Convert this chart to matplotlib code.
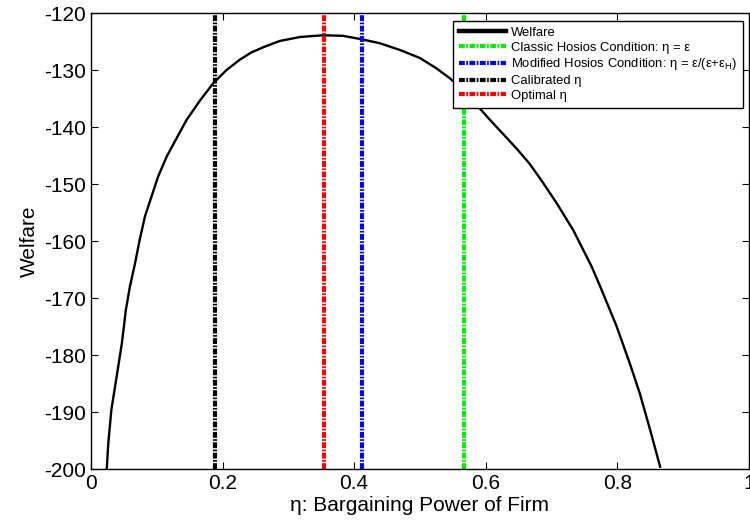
import matplotlib
matplotlib.use("Agg")
import matplotlib.pyplot as plt
from matplotlib.lines import Line2D

plt.rcParams['font.family'] = ['Liberation Sans', 'DejaVu Sans']
plt.rcParams['mathtext.fontset'] = 'custom'
plt.rcParams['mathtext.rm'] = 'Liberation Sans'
plt.rcParams['mathtext.it'] = 'Liberation Sans'
plt.rcParams['axes.unicode_minus'] = False

# welfare curve
eta = [0.024, 0.0263, 0.031, 0.039, 0.047, 0.053, 0.059, 0.067, 0.074, 0.082,
       0.092, 0.102, 0.115, 0.130, 0.145, 0.166, 0.186, 0.206, 0.226, 0.244,
       0.262, 0.287, 0.318, 0.353, 0.383, 0.411, 0.439, 0.470, 0.500, 0.525,
       0.546, 0.566, 0.586, 0.606, 0.627, 0.647, 0.667, 0.686, 0.708, 0.733,
       0.761, 0.774, 0.799, 0.819, 0.834, 0.850, 0.865]
welfare = [-200.0, -195.5, -189.6, -183.8, -177.9, -172.1, -168.1, -163.9, -159.8, -155.7,
           -152.2, -148.7, -145.2, -142.0, -138.8, -135.3, -132.3, -130.0, -128.2, -126.9,
           -126.0, -124.9, -124.2, -123.9, -124.0, -124.6, -125.3, -126.5, -127.9, -129.7,
           -131.5, -133.6, -136.1, -138.7, -141.3, -143.8, -146.5, -149.6, -153.4, -158.1,
           -164.5, -168.0, -175.0, -181.5, -186.7, -193.2, -199.6]

eta_classic = 0.567
eta_modified = 0.412
eta_calibrated = 0.188
eta_optimal = 0.354

xticks = [0, 0.2, 0.4, 0.6, 0.8, 1]
yticks = [-200, -190, -180, -170, -160, -150, -140, -130, -120]

dashdot = (1.4, 0.35, 0.4, 0.35)

fig = plt.figure(figsize=(7.5, 5.21), dpi=100)
ax = fig.add_axes([0.1213, 0.0998, 0.8773, 0.8752])

ax.plot(eta, welfare, color="black", linewidth=1.7)
vlines = [
    (eta_classic, "#00ee00", "Classic Hosios Condition: η = ε"),
    (eta_modified, "blue", "Modified Hosios Condition: η = ε/(ε+ε$_H$)"),
    (eta_calibrated, "black", "Calibrated η"),
    (eta_optimal, "red", "Optimal η"),
]
handles = [Line2D([], [], color="black", linewidth=3.2)]
labels = ["Welfare"]
for x, c, lab in vlines:
    ax.axvline(x, color=c, linestyle=(0, dashdot), linewidth=3)
    handles.append(Line2D([], [], color=c, linestyle=(0, dashdot), linewidth=3))
    labels.append(lab)

ax.set_xlim(0, 1)
ax.set_ylim(-200, -120)
ax.set_xticks(xticks)
ax.set_xticklabels(["0", "0.2", "0.4", "0.6", "0.8", "1"])
ax.set_yticks(yticks)
ax.tick_params(direction="in", top=True, right=True, labelsize=15, length=5)
for s in ax.spines.values():
    s.set_linewidth(1.0)

ax.set_xlabel("η: Bargaining Power of Firm", fontsize=15, labelpad=2)
ax.set_ylabel("Welfare", fontsize=15, labelpad=4)

leg = ax.legend(handles, labels, loc="upper right", bbox_to_anchor=(0.9907, 0.9597),
                bbox_transform=fig.transFigure, borderaxespad=0,
                fontsize=9.4, handlelength=3.6, handletextpad=0.4,
                fancybox=False, framealpha=1, edgecolor="black",
                labelspacing=0.2, borderpad=0.45)
leg.get_frame().set_linewidth(1.0)

fig.savefig("out.png", dpi=100)
